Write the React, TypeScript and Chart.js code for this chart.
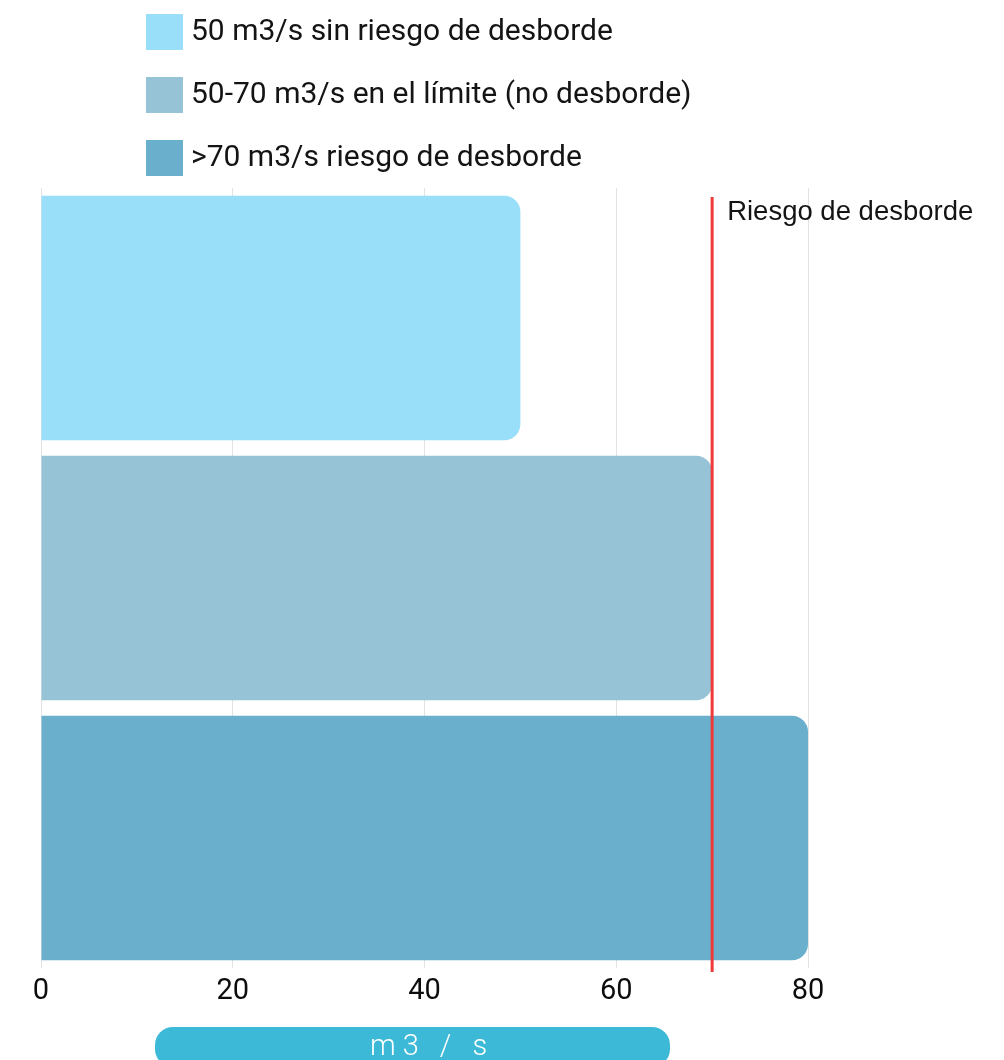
import React, { useEffect, useRef } from 'react';
import { Chart, registerables } from 'chart.js';

Chart.register(...registerables);

// Flow categories and their discharge values (m3/s)
const CATEGORIES = [
  '50 m3/s sin riesgo de desborde',
  '50-70 m3/s en el límite (no desborde)',
  '>70 m3/s riesgo de desborde',
];
const FLOW_VALUES = [50, 70, 80];
const BAR_COLORS = ['#99DFFA', '#96C3D6', '#6AAFCB'];
const X_TICKS = [0, 20, 40, 60, 80];
const THRESHOLD = 70;
const THRESHOLD_LABEL = 'Riesgo de desborde';
const AXIS_TITLE = 'm3 / s';

const WIDTH = 1004;
const HEIGHT = 1060;

// Vertical legend drawn above the plot
const legendPlugin = {
  id: 'stackedLegend',
  afterDraw(chart: any) {
    const { ctx } = chart;
    ctx.save();
    CATEGORIES.forEach((label, i) => {
      const top = 14 + i * 63;
      ctx.fillStyle = BAR_COLORS[i];
      ctx.fillRect(146, top, 37, 36);
      ctx.fillStyle = '#141414';
      ctx.font = '30px Roboto';
      ctx.textBaseline = 'middle';
      ctx.textAlign = 'left';
      ctx.fillText(label, 191, top + 18);
    });
    ctx.restore();
  },
};

// Red reference line at the overflow threshold
const thresholdPlugin = {
  id: 'thresholdLine',
  afterDatasetsDraw(chart: any) {
    const { ctx, chartArea, scales } = chart;
    const x = scales.x.getPixelForValue(THRESHOLD);
    ctx.save();
    ctx.strokeStyle = '#F03A3A';
    ctx.lineWidth = 3;
    ctx.beginPath();
    ctx.moveTo(x, chartArea.top + 9);
    ctx.lineTo(x, chartArea.bottom + 4);
    ctx.stroke();
    ctx.fillStyle = '#141414';
    ctx.font = '27.5px "Liberation Sans", Arial, sans-serif';
    ctx.textBaseline = 'alphabetic';
    ctx.textAlign = 'left';
    ctx.fillText(THRESHOLD_LABEL, x + 15, chartArea.top + 32);
    ctx.restore();
  },
};

// Axis title inside a rounded pill below the ticks
const axisTitlePlugin = {
  id: 'pillTitle',
  afterDraw(chart: any) {
    const { ctx } = chart;
    const left = 155;
    const right = 670;
    const top = 1027;
    const h = 40;
    const r = 18;
    ctx.save();
    ctx.fillStyle = '#3BB9D6';
    ctx.beginPath();
    ctx.roundRect(left, top, right - left, h, r);
    ctx.fill();
    ctx.fillStyle = '#ffffff';
    ctx.font = '300 29px Roboto';
    (ctx as any).letterSpacing = '7px';
    ctx.textBaseline = 'alphabetic';
    ctx.textAlign = 'left';
    ctx.fillText(AXIS_TITLE, 370, 1055);
    ctx.restore();
  },
};

export default function App() {
  const canvasRef = useRef<HTMLCanvasElement | null>(null);

  useEffect(() => {
    if (!canvasRef.current) return;
    const chart = new Chart(canvasRef.current, {
      type: 'bar',
      data: {
        labels: CATEGORIES,
        datasets: [
          {
            data: FLOW_VALUES,
            backgroundColor: BAR_COLORS,
            borderRadius: 16,
            borderSkipped: 'start',
            barPercentage: 0.94,
            categoryPercentage: 1,
          },
        ],
      },
      options: {
        indexAxis: 'y',
        responsive: false,
        animation: false,
        layout: { padding: { left: 41, right: 196, top: 188, bottom: 0 } },
        plugins: {
          legend: { display: false },
          tooltip: { enabled: false },
        },
        scales: {
          x: {
            min: 0,
            max: 80,
            afterBuildTicks: (scale: any) => {
              scale.ticks = X_TICKS.map((v) => ({ value: v }));
            },
            afterFit: (scale: any) => {
              scale.height = 92;
            },
            grid: { color: '#e3e3e3', lineWidth: 1, drawTicks: false },
            border: { display: false },
            ticks: {
              padding: 6,
              color: '#0d0d0d',
              font: { family: 'Roboto', size: 29 },
              maxRotation: 0,
            },
          },
          y: { display: false },
        },
      },
      plugins: [legendPlugin, thresholdPlugin, axisTitlePlugin],
    });
    return () => chart.destroy();
  }, []);

  return (
    <div style={{ position: 'fixed', left: 0, top: 0, width: WIDTH, height: HEIGHT, background: '#ffffff' }}>
      <canvas ref={canvasRef} width={WIDTH} height={HEIGHT} />
    </div>
  );
}
